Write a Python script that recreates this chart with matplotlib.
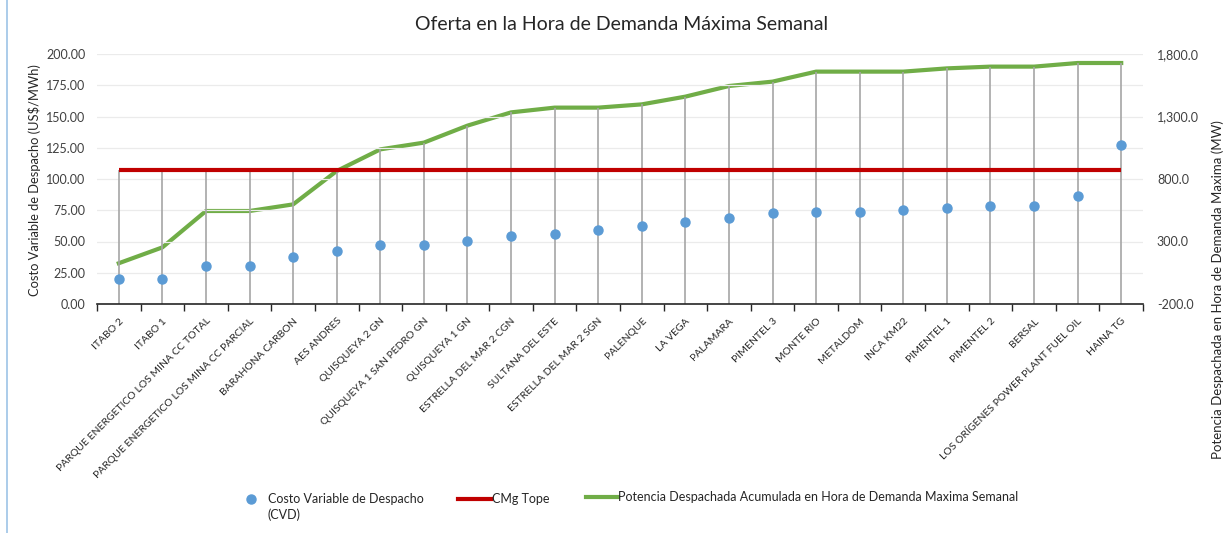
import numpy as np
import matplotlib.pyplot as plt
from matplotlib.lines import Line2D

plt.rcParams['font.family'] = ['Lato', 'DejaVu Sans']

W, H = 1226, 533

plantas = ['ITABO 2', 'ITABO 1', 'PARQUE ENERGETICO LOS MINA CC TOTAL',
           'PARQUE ENERGETICO LOS MINA CC PARCIAL', 'BARAHONA CARBON', 'AES ANDRES',
           'QUISQUEYA 2 GN', 'QUISQUEYA 1 SAN PEDRO GN', 'QUISQUEYA 1 GN',
           'ESTRELLA DEL MAR 2 CGN', 'SULTANA DEL ESTE', 'ESTRELLA DEL MAR 2 SGN',
           'PALENQUE', 'LA VEGA', 'PALAMARA', 'PIMENTEL 3', 'MONTE RIO', 'METALDOM',
           'INCA KM22', 'PIMENTEL 1', 'PIMENTEL 2', 'BERSAL',
           'LOS ORÍGENES POWER PLANT FUEL OIL', 'HAINA TG']
cvd = [20.0, 20.0, 30.2, 30.4, 37.6, 42.4, 47.0, 47.5, 50.4, 54.6, 55.7, 59.3,
       62.7, 65.3, 68.5, 72.5, 73.6, 73.9, 75.2, 76.8, 78.1, 78.3, 86.7, 127.5]
cmg_tope = 107.0
potencia = [126, 253, 544, 544, 597, 864, 1037, 1091, 1227, 1333, 1371, 1371,
            1397, 1459, 1544, 1579, 1659, 1659, 1659, 1685, 1699, 1699, 1728, 1728]

C_CVD = '#5B9BD5'
C_TOPE = '#C00000'
C_POT = '#70AD47'
TXT = '#262626'

x = np.arange(len(plantas))

fig = plt.figure(figsize=(W/100, H/100), dpi=100)
ax = fig.add_axes([97/W, 1-304/H, (1143-97)/W, 250/H])
ax2 = ax.twinx()

# left axis
ax.set_xlim(-0.5, len(plantas)-0.5)
ax.set_ylim(0, 200)
ax.set_yticks(np.arange(0, 201, 25))
ax.set_yticklabels(['%.2f' % v for v in np.arange(0, 201, 25)])
ax.grid(axis='y', color='#EBEBEB', lw=0.9)
ax.set_axisbelow(True)

# right axis
ax2.set_ylim(-200, 1800)
ax2.set_yticks(np.arange(-200, 1801, 500))
ax2.set_yticklabels(['{:,.1f}'.format(v) for v in np.arange(-200, 1801, 500)])

# drop lines up to the highest series
pot_left = (np.array(potencia) + 200) / 10.0
tops = np.maximum(pot_left, cmg_tope)
ax.vlines(x, 0, tops, color='#A6A6A6', lw=1.2, zorder=2)

ax.plot(x, [cmg_tope]*len(x), color=C_TOPE, lw=3, zorder=3, solid_capstyle='butt')
ax2.plot(x, potencia, color=C_POT, lw=3, zorder=3)
ax.plot(x, cvd, 'o', color=C_CVD, ms=6.5, zorder=4)
ax.set_zorder(ax2.get_zorder()+1)
ax.patch.set_visible(False)

for a in (ax, ax2):
    for s in ('top', 'left', 'right', 'bottom'):
        a.spines[s].set_visible(False)
ax.tick_params(axis='y', length=0, labelsize=9, colors='#404040', pad=8.5)
ax2.tick_params(axis='y', length=0, labelsize=9, colors='#404040', pad=10)
ax.spines['bottom'].set_visible(True)
ax.spines['bottom'].set_color(TXT)
ax.spines['bottom'].set_linewidth(1.2)

ax.set_xticks(x)
ax.set_xticklabels(plantas, rotation=45, ha='right', rotation_mode='anchor',
                   fontsize=7.5, color=TXT)
ax.tick_params(axis='x', length=0, pad=9)
ax.set_xticks(np.arange(-0.5, len(plantas), 1), minor=True)
ax.tick_params(axis='x', which='minor', length=5, direction='out', color=TXT, width=1)

fig.text(35/W, 1-180/H, 'Costo Variable de Despacho (US$/MWh)', rotation=90,
         ha='center', va='center', fontsize=9.3, color=TXT)
fig.text(1218/W, 1-290/H, 'Potencia Despachada en Hora de Demanda Maxima (MW)',
         rotation=90, ha='center', va='center', fontsize=9.5, color=TXT)

fig.text(622/W, 1-25/H, 'Oferta en la Hora de Demanda Máxima Semanal',
         ha='center', va='center', fontsize=14, color=TXT)

# legend, laid out as in the original
fig.add_artist(Line2D([251/W], [1-499/H], marker='o', ls='none', color=C_CVD, ms=6.5))
fig.text(268/W, 1-499/H, 'Costo Variable de Despacho', va='center', fontsize=9, color=TXT)
fig.text(268/W, 1-515/H, '(CVD)', va='center', fontsize=9, color=TXT)
fig.add_artist(Line2D([458/W, 491/W], [1-499/H]*2, color=C_TOPE, lw=3))
fig.text(492/W, 1-499/H, 'CMg Tope', va='center', fontsize=9, color=TXT)
fig.add_artist(Line2D([586/W, 618/W], [1-497/H]*2, color=C_POT, lw=3))
fig.text(618/W, 1-497/H, 'Potencia Despachada Acumulada en Hora de Demanda Maxima Semanal',
         va='center', fontsize=9, color=TXT)

# left border of the original frame
fig.add_artist(Line2D([7/W, 7/W], [0, 1], color='#9DC3E6', lw=1.2))

fig.savefig('out.png', dpi=100)
